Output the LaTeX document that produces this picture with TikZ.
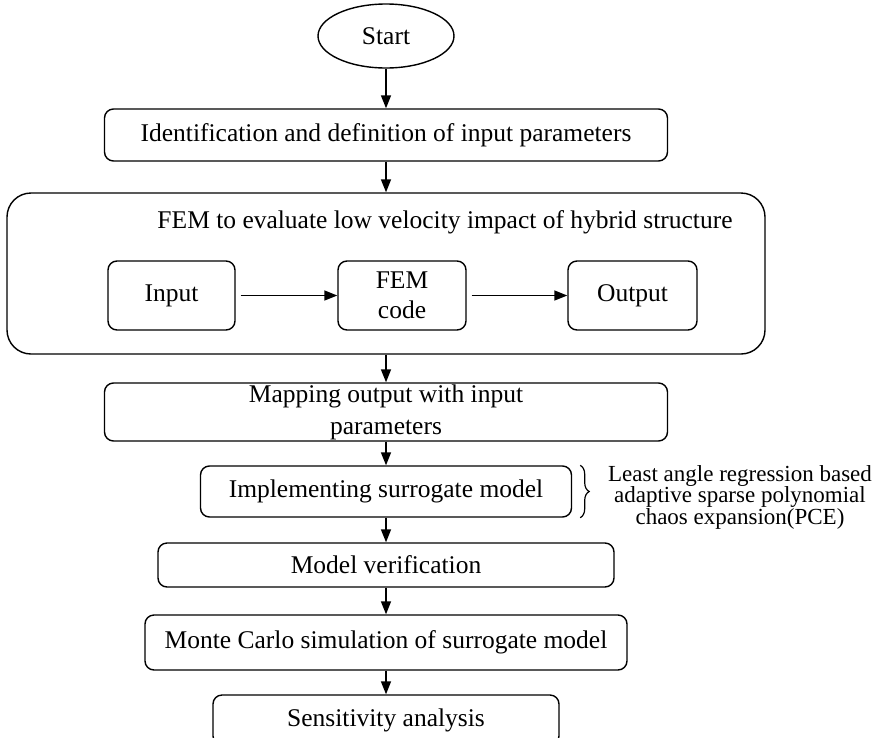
\documentclass[tikz,border=0pt]{standalone}
\usepackage{fontspec}
\setmainfont{Liberation Serif}
\usetikzlibrary{arrows.meta,shapes.geometric,decorations.pathreplacing}

\begin{document}
\begin{tikzpicture}[
    x=1pt, y=-1pt,
    every node/.style={font=\fontsize{25.5}{30}\selectfont},
    box/.style={draw, line width=1.4pt, rounded corners=9pt, align=center, inner sep=0pt},
    flow/.style={-{Triangle[length=13pt,width=10pt]}, line width=1.4pt}
 ]
\useasboundingbox (0,0) rectangle (878,737);
\clip (0,0) rectangle (878,737);

% main column
\node[draw, line width=1.4pt, ellipse, minimum width=136pt, minimum height=64pt, inner sep=0pt] (start) at (386,36) {Start};
\node[box, minimum width=563pt, minimum height=52pt] (ident) at (386,135) {Identification and definition of input parameters};
\node[box, rounded corners=24pt, minimum width=758pt, minimum height=161pt] (fem) at (386,273.5) {};
\node (femtitle) at (445,222) {FEM to evaluate low velocity impact of hybrid structure};

% inside the FEM box
\node[box, minimum width=127pt, minimum height=69pt] (input) at (171.5,295.5) {Input};
\node[box, minimum width=128pt, minimum height=69pt] (code) at (402,295.5) {FEM\\code};
\node[box, minimum width=129pt, minimum height=69pt] (output) at (632.5,295.5) {Output};

\node[box, minimum width=563pt, minimum height=58pt, font=\fontsize{25.5}{32}\selectfont] (map) at (386,412) {Mapping output with input\\parameters};
\node[box, minimum width=371pt, minimum height=51pt] (impl) at (386,491.5) {Implementing surrogate model};
\node[box, minimum width=456pt, minimum height=44pt] (verif) at (386,565) {Model verification};
\node[box, minimum width=482pt, minimum height=55pt] (mc) at (386,642.5) {Monte Carlo simulation of surrogate model};
\node[box, minimum width=346pt, minimum height=50pt] (sens) at (386,720) {Sensitivity analysis};

% note on the surrogate model
\node[align=center, font=\fontsize{23}{21.5}\selectfont] (pce) at (740,497) {Least angle regression based\\adaptive sparse polynomial\\chaos expansion(PCE)};
\draw[line width=1.2pt, decorate, decoration={brace, amplitude=9pt}]
    ([xshift=8pt]impl.north east) -- ([xshift=8pt]impl.south east);

\draw[flow] (start) -- (ident);
\draw[flow] (ident) -- (fem);
\draw[flow] (fem) -- (map);
\draw[flow] (map) -- (impl);
\draw[flow] (impl) -- (verif);
\draw[flow] (verif) -- (mc);
\draw[flow] (mc) -- (sens);

\draw[flow, shorten <=5pt] (input) -- (code);
\draw[flow, shorten <=5pt] (code) -- (output);

\end{tikzpicture}
\end{document}
